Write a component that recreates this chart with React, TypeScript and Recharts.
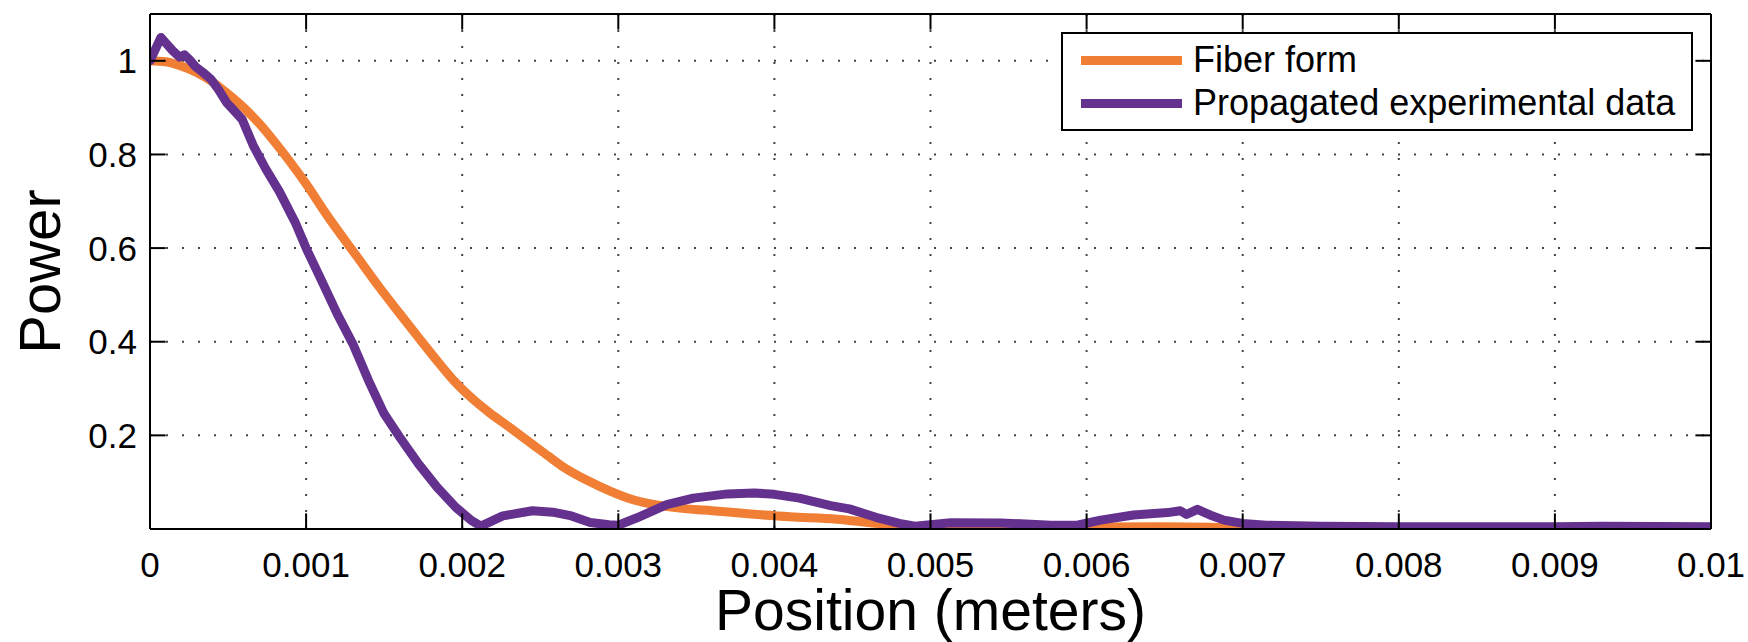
import React from 'react';
import { LineChart, Line, XAxis, YAxis, CartesianGrid, Label } from 'recharts';

// ---- axis ticks & labels ----
const xTicks = [0, 0.001, 0.002, 0.003, 0.004, 0.005, 0.006, 0.007, 0.008, 0.009, 0.01];
const xTickLabels = ['0', '0.001', '0.002', '0.003', '0.004', '0.005', '0.006', '0.007', '0.008', '0.009', '0.01'];
const yTicks = [0.2, 0.4, 0.6, 0.8, 1];
const yTickLabels = ['0.2', '0.4', '0.6', '0.8', '1'];
const xDomain = [0, 0.01];
const yDomain = [0, 1.1];
const xTitle = 'Position (meters)';
const yTitle = 'Power';

// ---- series ----
const seriesNames = ['Fiber form', 'Propagated experimental data'];
const seriesColors = ['#F07F35', '#64328E'];

const fiberX = [0, 0.0001, 0.0002, 0.0003, 0.0004, 0.0005, 0.0006, 0.0007, 0.0008, 0.0009, 0.001, 0.00113, 0.00133, 0.00147, 0.0016, 0.00172, 0.00185, 0.00196, 0.00208, 0.00218, 0.0023, 0.00245, 0.00255, 0.00265, 0.0028, 0.00294, 0.00309, 0.0032, 0.00344, 0.0036, 0.00385, 0.0041, 0.0044, 0.0046, 0.0048, 0.005, 0.0055, 0.006, 0.0065, 0.0068, 0.007, 0.008, 0.009, 0.0093, 0.01];
const fiberY = [1.0, 0.998, 0.989, 0.975, 0.955, 0.929, 0.9, 0.866, 0.826, 0.783, 0.737, 0.672, 0.58, 0.516, 0.46, 0.409, 0.355, 0.312, 0.274, 0.247, 0.218, 0.181, 0.156, 0.132, 0.104, 0.082, 0.063, 0.054, 0.043, 0.039, 0.032, 0.026, 0.021, 0.014, 0.007, 0.004, 0.003, 0.004, 0.005, 0.004, 0.002, 0.002, 0.002, 0.002, 0.001];

const expX = [0, 0.00007, 0.00015, 0.00019, 0.00022, 0.00026, 0.00029, 0.00034, 0.00039, 0.00044, 0.00049, 0.00054, 0.00059, 0.00066, 0.00074, 0.00083, 0.00093, 0.001, 0.0011, 0.0012, 0.0013, 0.0014, 0.0015, 0.0016, 0.00172, 0.00184, 0.00196, 0.00206, 0.00212, 0.00226, 0.00245, 0.00258, 0.0027, 0.00282, 0.00294, 0.003, 0.00312, 0.00331, 0.00348, 0.0037, 0.00387, 0.004, 0.00416, 0.00436, 0.00448, 0.00465, 0.0048, 0.0049, 0.00513, 0.00545, 0.00577, 0.00594, 0.00609, 0.0063, 0.00652, 0.0066, 0.00664, 0.00671, 0.00679, 0.00688, 0.007, 0.00715, 0.0075, 0.008, 0.009, 0.0093, 0.01];
const expY = [1.0, 1.05, 1.02, 1.008, 1.013, 1.0, 0.988, 0.975, 0.961, 0.938, 0.911, 0.893, 0.875, 0.82, 0.77, 0.72, 0.655, 0.6, 0.53, 0.459, 0.395, 0.317, 0.246, 0.196, 0.139, 0.089, 0.046, 0.018, 0.006, 0.028, 0.039, 0.036, 0.028, 0.014, 0.009, 0.008, 0.024, 0.052, 0.066, 0.075, 0.077, 0.074, 0.066, 0.05, 0.043, 0.025, 0.012, 0.006, 0.0135, 0.013, 0.008, 0.008, 0.019, 0.03, 0.035, 0.039, 0.031, 0.042, 0.03, 0.019, 0.012, 0.008, 0.006, 0.005, 0.005, 0.006, 0.005];

const fiberData = fiberX.map((x, i) => ({ x, y: fiberY[i] }));
const expData = expX.map((x, i) => ({ x, y: expY[i] }));

// ---- style ----
const FONT = '"Liberation Sans", Arial, Helvetica, sans-serif';
const TICK_LEN = 15.6;
const tickText = { fontSize: 35, fill: '#000', fontFamily: FONT };
const axisStroke = { stroke: '#000', strokeWidth: 2 };

function labelFor(v: number, ticks: number[], labels: string[]) {
  const i = ticks.findIndex((t) => Math.abs(t - v) < 1e-12);
  return i >= 0 ? labels[i] : String(v);
}

function XTitle(props: any) {
  const vb = props.viewBox;
  return (
    <text x={vb.x + vb.width / 2} y={vb.y + vb.height - 12} textAnchor="middle" fontSize={57} fontFamily={FONT} fill="#000">
      {xTitle}
    </text>
  );
}

function YTitle(props: any) {
  const vb = props.viewBox;
  const cx = vb.x + 60;
  const cy = vb.y + vb.height / 2;
  return (
    <text x={cx} y={cy} transform={`rotate(-90 ${cx} ${cy})`} textAnchor="middle" fontSize={58} fontFamily={FONT} fill="#000">
      {yTitle}
    </text>
  );
}

function LegendBox() {
  const rows = [63 - 32, 106 - 32];
  return (
    <div
      style={{
        position: 'absolute',
        left: 1061,
        top: 32,
        width: 632,
        height: 99,
        boxSizing: 'border-box',
        border: '2px solid #000',
        background: '#fff',
        fontFamily: FONT,
        fontSize: 36,
        color: '#000',
      }}
    >
      {seriesNames.map((name, i) => (
        <div key={name}>
          <div
            style={{
              position: 'absolute',
              left: 18,
              top: rows[i] - 2 - 4.5 - 3,
              width: 101,
              height: 9,
              background: seriesColors[i],
            }}
          />
          <div
            style={{
              position: 'absolute',
              left: 130,
              top: rows[i] - 2 - 20 - 3,
              height: 40,
              lineHeight: '40px',
              whiteSpace: 'nowrap',
            }}
          >
            {name}
          </div>
        </div>
      ))}
    </div>
  );
}

export default function App() {
  return (
    <div style={{ position: 'absolute', left: 0, top: 0, width: 1748, height: 642, background: '#fff' }}>
      <LineChart width={1748} height={642} margin={{ top: 13, right: 36, bottom: 0, left: 0 }}>
        <CartesianGrid stroke="#444" strokeWidth={2} strokeDasharray="2 14" />
        <XAxis
          type="number"
          dataKey="x"
          domain={xDomain}
          ticks={xTicks}
          interval={0}
          allowDataOverflow
          height={113}
          tickSize={-TICK_LEN}
          tickMargin={23 + TICK_LEN}
          tickLine={axisStroke}
          axisLine={axisStroke}
          tick={tickText}
          tickFormatter={(v: number) => labelFor(v, xTicks, xTickLabels)}
        >
          <Label content={<XTitle />} />
        </XAxis>
        <XAxis
          xAxisId="top"
          orientation="top"
          type="number"
          dataKey="x"
          domain={xDomain}
          ticks={xTicks}
          interval={0}
          allowDataOverflow
          height={1}
          tickSize={-TICK_LEN}
          tickMargin={0}
          tickLine={axisStroke}
          axisLine={axisStroke}
          tick={tickText}
          tickFormatter={() => ''}
        />
        <YAxis
          type="number"
          domain={yDomain}
          ticks={yTicks}
          interval={0}
          allowDataOverflow
          width={150}
          tickSize={-TICK_LEN}
          tickMargin={13 + TICK_LEN}
          tickLine={axisStroke}
          axisLine={axisStroke}
          tick={tickText}
          tickFormatter={(v: number) => labelFor(v, yTicks, yTickLabels)}
        >
          <Label content={<YTitle />} />
        </YAxis>
        <YAxis
          yAxisId="right"
          orientation="right"
          type="number"
          domain={yDomain}
          ticks={yTicks}
          interval={0}
          allowDataOverflow
          width={1}
          tickSize={-TICK_LEN}
          tickMargin={0}
          tickLine={axisStroke}
          axisLine={axisStroke}
          tick={tickText}
          tickFormatter={() => ''}
        />
        <Line
          data={fiberData}
          xAxisId="top"
          yAxisId="right"
          dataKey="y"
          name={seriesNames[0]}
          type="monotone"
          stroke={seriesColors[0]}
          strokeWidth={9}
          dot={false}
          activeDot={false}
          isAnimationActive={false}
          strokeLinejoin="round"
          strokeLinecap="round"
        />
        <Line
          data={expData}
          dataKey="y"
          name={seriesNames[1]}
          type="linear"
          stroke={seriesColors[1]}
          strokeWidth={9}
          dot={false}
          activeDot={false}
          isAnimationActive={false}
          strokeLinejoin="round"
          strokeLinecap="round"
        />
      </LineChart>
      <LegendBox />
    </div>
  );
}
